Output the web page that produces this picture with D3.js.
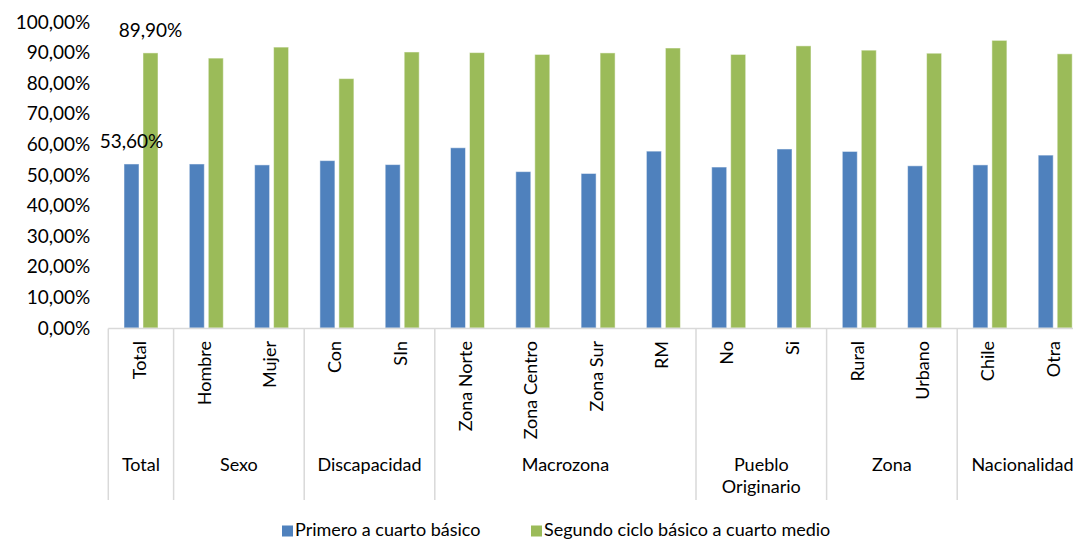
<!DOCTYPE html>
<html>
<head>
<meta charset="utf-8">
<script src="https://cdn.jsdelivr.net/npm/d3@7"></script>
<style>
body { margin: 0; background: #fff; }
svg { font-family: Lato, "Open Sans", sans-serif; }
</style>
</head>
<body>
<script>
// chart data
var groups = ["Total", "Sexo", "Discapacidad", "Macrozona", "Pueblo Originario", "Zona", "Nacionalidad"];
var groupSizes = [1, 2, 2, 4, 2, 2, 2];
var categories = ["Total", "Hombre", "Mujer", "Con", "SIn", "Zona Norte", "Zona Centro", "Zona Sur", "RM", "No", "Si", "Rural", "Urbano", "Chile", "Otra"];
var seriesNames = ["Primero a cuarto básico", "Segundo ciclo básico a cuarto medio"];
var primero = [53.6, 53.6, 53.3, 54.7, 53.4, 58.9, 51.1, 50.5, 57.8, 52.6, 58.5, 57.7, 53.0, 53.3, 56.5];
var segundo = [89.9, 88.2, 91.8, 81.5, 90.2, 90.0, 89.4, 89.9, 91.5, 89.4, 92.2, 90.8, 89.8, 94.0, 89.6];
var yTicks = [0, 10, 20, 30, 40, 50, 60, 70, 80, 90, 100];
var colors = ["#4F81BD", "#9BBB59"];

var width = 1073, height = 541;
var left = 108.3, bandW = 65.3;
var svg = d3.select("body").append("svg").attr("width", width).attr("height", height);

var x0 = d3.scaleBand().domain(categories).range([left, left + bandW * categories.length]);
var x1 = d3.scaleBand().domain(seriesNames).range([15.7, 49.7]).paddingInner(0.21);
var y = d3.scaleLinear().domain([0, 100]).range([328, 22]);

var fmt = function(v) { return d3.format(".2f")(v).replace(".", ",") + "%"; };

// y axis
var yAxis = svg.append("g").attr("transform", "translate(" + left + ",0)")
  .call(d3.axisLeft(y).tickValues(yTicks).tickSize(0).tickPadding(18).tickFormat(fmt));
yAxis.select(".domain").remove();
yAxis.selectAll("text").attr("font-size", 19).attr("fill", "#000").style("font-family", "Lato");

// bars
var rows = categories.map(function(c, i) { return { cat: c, vals: [primero[i], segundo[i]] }; });
var cg = svg.selectAll("g.cat").data(rows).enter().append("g")
  .attr("class", "cat")
  .attr("transform", function(d) { return "translate(" + x0(d.cat) + ",0)"; });
cg.selectAll("rect").data(function(d) { return d.vals; }).enter().append("rect")
  .attr("x", function(d, i) { return x1(seriesNames[i]); })
  .attr("y", function(d) { return y(d); })
  .attr("width", x1.bandwidth())
  .attr("height", function(d) { return y(0) - y(d); })
  .attr("fill", function(d, i) { return colors[i]; })
  .attr("stroke", "#fff").attr("stroke-opacity", 0.5).attr("stroke-width", 1);

// data labels on Total only
var totalG = cg.filter(function(d) { return d.cat == "Total"; });
totalG.selectAll("text.lbl").data(function(d) { return d.vals; }).enter().append("text")
  .attr("class", "lbl")
  .attr("x", function(d, i) { return x1(seriesNames[i]) + x1.bandwidth() / 2; })
  .attr("y", function(d) { return y(d) - 21; })
  .attr("text-anchor", "middle").attr("dominant-baseline", "middle")
  .attr("font-size", 19).text(function(d) { return fmt(d); });

// category axis
svg.append("line").attr("x1", left).attr("x2", x0.range()[1]).attr("y1", 328.5).attr("y2", 328.5)
  .attr("stroke", "#d9d9d9").attr("stroke-width", 1.5);

var bounds = [0];
groupSizes.forEach(function(s, i) { bounds.push(bounds[i] + s); });
svg.selectAll("line.sep").data(bounds).enter().append("line")
  .attr("class", "sep")
  .attr("x1", function(d) { return left + d * bandW; })
  .attr("x2", function(d) { return left + d * bandW; })
  .attr("y1", 328.5).attr("y2", 500)
  .attr("stroke", "#d9d9d9").attr("stroke-width", 1.5);

svg.selectAll("text.sub").data(categories).enter().append("text")
  .attr("class", "sub")
  .attr("transform", function(d) { return "translate(" + (x0(d) + bandW / 2) + ",341) rotate(-90)"; })
  .attr("text-anchor", "end").attr("dominant-baseline", "middle")
  .attr("font-size", 18).text(function(d) { return d; });

var gl = svg.selectAll("text.grp").data(groups).enter().append("text")
  .attr("class", "grp")
  .attr("x", function(d, i) { return left + (bounds[i] + bounds[i + 1]) / 2 * bandW; })
  .attr("y", 466)
  .attr("text-anchor", "middle").attr("dominant-baseline", "middle")
  .attr("font-size", 18);
gl.each(function(d) {
  var parts = d == "Pueblo Originario" ? ["Pueblo", "Originario"] : [d];
  var t = d3.select(this);
  parts.forEach(function(p, k) {
    t.append("tspan").attr("x", t.attr("x")).attr("dy", k == 0 ? 0 : 22).text(p);
  });
});

// legend
var legX = [282, 531];
var leg = svg.selectAll("g.leg").data(seriesNames).enter().append("g")
  .attr("class", "leg")
  .attr("transform", function(d, i) { return "translate(" + legX[i] + ",531)"; });
leg.append("rect").attr("x", 0).attr("y", -5.5).attr("width", 11).attr("height", 11)
  .attr("fill", function(d, i) { return colors[i]; });
leg.append("text").attr("x", 13).attr("y", 0).attr("dominant-baseline", "middle")
  .attr("font-size", 18).text(function(d) { return d; });
</script>
</body>
</html>
